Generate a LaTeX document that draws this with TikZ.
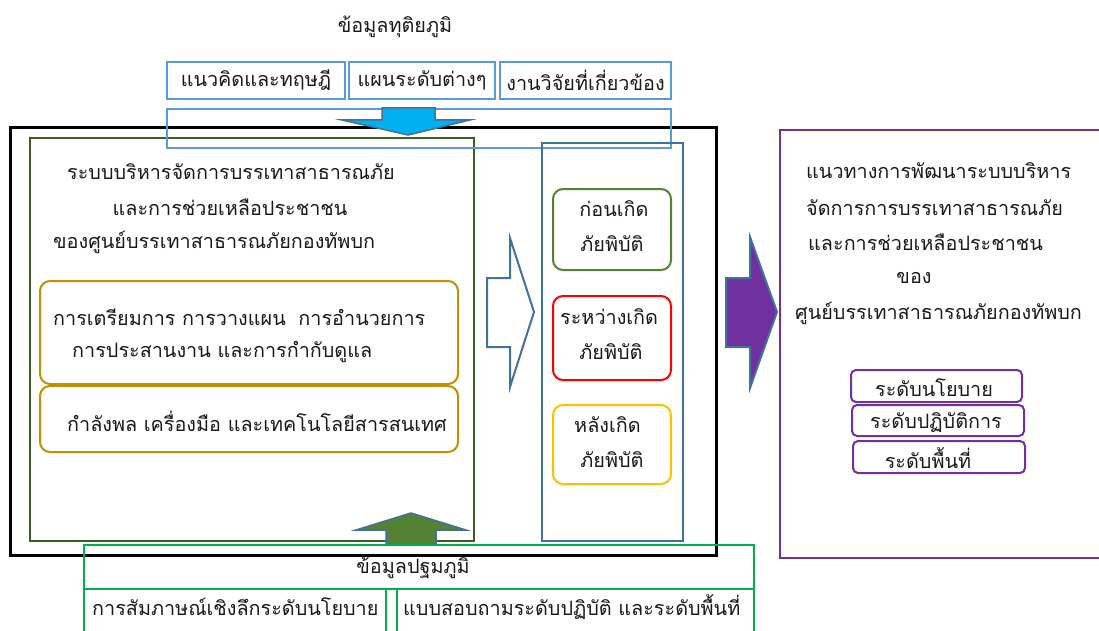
\documentclass[tikz,border=0pt]{standalone}
\usepackage{fontspec}
\newfontfamily\thai[Script=Thai]{Loma}
\definecolor{lblue}{HTML}{5B9BD5}
\definecolor{dblue}{HTML}{41719C}
\definecolor{cyanf}{HTML}{00B0F0}
\definecolor{dgreen}{HTML}{3D5E23}
\definecolor{gold}{HTML}{BF9000}
\definecolor{mgreen}{HTML}{548235}
\definecolor{yel}{HTML}{FFC000}
\definecolor{purp}{HTML}{7030A0}
\definecolor{bgreen}{HTML}{00B050}
\tikzset{
  txt/.style={inner sep=0pt, font=\thai\fontsize{19.8}{24}\selectfont, text=black!90},
  box/.style={line width=2pt},
  rbox/.style={line width=2pt, rounded corners=10pt},
  lvl/.style={line width=2pt, purp, rounded corners=5pt},
}
\begin{document}
\begin{tikzpicture}[x=1pt,y=-1pt]
\useasboundingbox (0,0) rectangle (1099,631);
% top
\node[txt] (t1) at (395,27) {ข้อมูลทุติยภูมิ};
\draw[box,lblue] (167,62) rectangle (345,99) node[midway,txt] (s1) {แนวคิดและทฤษฎี};
\draw[box,lblue] (349,62) rectangle (495,99) node[midway,txt] (s2) {แผนระดับต่างๆ};
\draw[box,lblue] (500,62) rectangle (671,99) node[midway,txt] (s3) {งานวิจัยที่เกี่ยวข้อง};
% black box
\draw[line width=3pt,black] (10,128) rectangle (716,555);
% green left box
\draw[box,dgreen] (30,138) rectangle (474,541);
\draw[box,lblue] (167,109) rectangle (671,148);
\draw[line width=1.5pt,dblue,fill=cyanf] (382,108) -- (435,108) -- (435,120) -- (470,120) -- (408,135) -- (342,120) -- (382,120) -- cycle;
\node[txt,anchor=west] (a1) at (67,172) {ระบบบริหารจัดการบรรเทาสาธารณภัย};
\node[txt] (a2) at (230,207) {และการช่วยเหลือประชาชน};
\node[txt,anchor=west] (a3) at (53,242) {ของศูนย์บรรเทาสาธารณภัยกองทัพบก};
\draw[rbox,gold] (40,281) rectangle (458,384);
\node[txt,anchor=west] (g1) at (53,317) {การเตรียมการ การวางแผน\hspace{6pt} การอำนวยการ};
\node[txt,anchor=west] (g2) at (72,352) {การประสานงาน และการกำกับดูแล};
\draw[rbox,gold] (40,386) rectangle (458,452);
\node[txt,anchor=west] (g3) at (67,421) {กำลังพล เครื่องมือ และเทคโนโลยีสารสนเทศ};
% hollow arrow
\draw[line width=2pt,dblue,fill=white] (487,278) -- (510,278) -- (510,238) -- (534,312) -- (510,387) -- (510,347) -- (487,347) -- cycle;
% column
\draw[box,dblue] (542,143) rectangle (683,541);
\draw[rbox,mgreen] (553,189) rectangle (671,270);
\node[txt] (c1) at (614,209) {ก่อนเกิด};
\node[txt] (c2) at (612,244) {ภัยพิบัติ};
\draw[rbox,red] (553,296) rectangle (671,380);
\node[txt,anchor=west] (c3) at (560,317) {ระหว่างเกิด};
\node[txt] (c4) at (611,352) {ภัยพิบัติ};
\draw[rbox,yel] (553,405) rectangle (671,484);
\node[txt,anchor=west] (c5) at (574,425) {หลังเกิด};
\node[txt] (c6) at (612,460) {ภัยพิบัติ};
% purple arrow
\draw[line width=2pt,dblue,fill=purp] (726,278) -- (750,278) -- (750,237) -- (777,312) -- (750,388) -- (750,347) -- (726,347) -- cycle;
% purple box
\draw[box,purp] (780,130) rectangle (1110,558);
\node[txt,anchor=west] (p1) at (806,171) {แนวทางการพัฒนาระบบบริหาร};
\node[txt,anchor=west] (p2) at (806,208) {จัดการการบรรเทาสาธารณภัย};
\node[txt,anchor=west] (p3) at (808,242) {และการช่วยเหลือประชาชน};
\node[txt] (p4) at (914,278) {ของ};
\node[txt,anchor=west] (p5) at (795,313) {ศูนย์บรรเทาสาธารณภัยกองทัพบก};
\draw[lvl] (851,370) rectangle (1022,402);
\node[txt] (l1) at (934,388) {ระดับนโยบาย};
\draw[lvl] (852,405) rectangle (1024,436);
\node[txt] (l2) at (936,423) {ระดับปฏิบัติการ};
\draw[lvl] (853,441) rectangle (1025,473);
\node[txt] (l3) at (928,458) {ระดับพื้นที่};
% bottom
\draw[line width=1.5pt,dblue,fill=mgreen] (386,544) -- (386,530) -- (356,530) -- (411,513) -- (466,530) -- (436,530) -- (436,544) -- cycle;
\draw[box,bgreen] (84,545) rectangle (754,589);
\node[txt] (b0) at (413,568) {ข้อมูลปฐมภูมิ};
\draw[box,bgreen] (84,589) -- (84,640) (386,589) -- (386,640) (84,589) -- (386,589);
\draw[box,bgreen] (397,589) -- (397,640) (754,589) -- (754,640) (397,589) -- (754,589);
\node[txt,anchor=west] (b1) at (92,607) {การสัมภาษณ์เชิงลึกระดับนโยบาย};
\node[txt,anchor=west] (b2) at (403,607) {แบบสอบถามระดับปฏิบัติ และระดับพื้นที่};
\end{tikzpicture}
\end{document}
